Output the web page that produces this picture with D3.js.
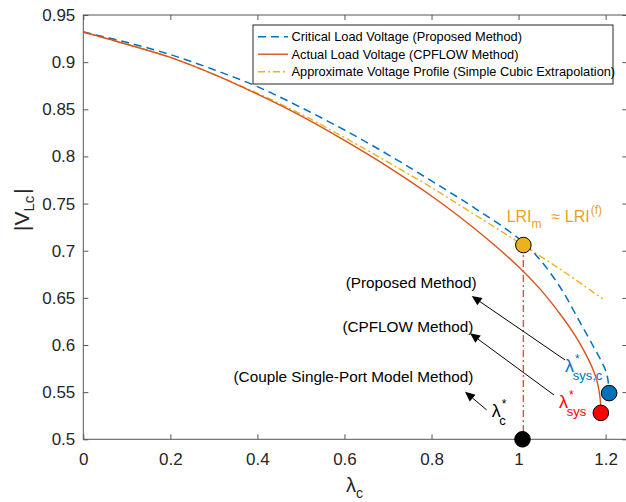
<!DOCTYPE html>
<html>
<head>
<meta charset="utf-8">
<script src="https://cdn.jsdelivr.net/npm/d3@7"></script>
<style>
  body { margin: 0; background: #fff; }
  text { font-family: "Liberation Sans", Arial, sans-serif; }
</style>
</head>
<body>
<div id="chart-area"></div>
<script>
// data
var lambdaCritical = [0, 0.1, 0.2, 0.3, 0.4, 0.5, 0.6, 0.7, 0.8, 0.9, 1.0, 1.05, 1.1, 1.14, 1.17, 1.19, 1.2, 1.205, 1.208];
var voltCritical   = [0.932, 0.921, 0.908, 0.892, 0.874, 0.852, 0.828, 0.802, 0.774, 0.745, 0.713, 0.69, 0.658, 0.625, 0.600, 0.583, 0.573, 0.564, 0.549];

var lambdaActual = [0, 0.1, 0.2, 0.3, 0.4, 0.5, 0.6, 0.7, 0.8, 0.9, 1.0, 1.05, 1.1, 1.13, 1.15, 1.17, 1.18, 1.185, 1.188, 1.189];
var voltActual   = [0.932, 0.919, 0.905, 0.887, 0.866, 0.843, 0.817, 0.789, 0.758, 0.723, 0.683, 0.659, 0.630, 0.610, 0.594, 0.575, 0.562, 0.551, 0.540, 0.528];

var lambdaApprox = [0, 0.1, 0.2, 0.3, 0.4, 0.5, 0.6, 0.7, 0.8, 0.9, 1.0, 1.1, 1.193];
var voltApprox   = [0.932, 0.919, 0.905, 0.887, 0.867, 0.845, 0.820, 0.794, 0.767, 0.738, 0.709, 0.679, 0.649];

// special points
var ptLRI   = [1.011, 0.706];
var ptSysC  = [1.208, 0.549];
var ptSys   = [1.189, 0.528];
var ptC     = [1.009, 0.5];

var xTicks = [0, 0.2, 0.4, 0.6, 0.8, 1, 1.2];
var yTicks = [0.5, 0.55, 0.6, 0.65, 0.7, 0.75, 0.8, 0.85, 0.9, 0.95];

var legendLabels = [
    "Critical Load Voltage (Proposed Method)",
    "Actual Load Voltage (CPFLOW Method)",
    "Approximate Voltage Profile (Simple Cubic Extrapolation)"
];

var colBlue = "#0072BD", colRed = "#D95319", colYellow = "#EDB120";

var chartWidth = 626, chartHeight = 502;

var svg = d3.select("#chart-area").append("svg")
    .attr("width", chartWidth)
    .attr("height", chartHeight);

// scales
var x = d3.scaleLinear().domain([0, 1.25]).range([83.3, 627.4]);
var y = d3.scaleLinear().domain([0.5, 0.95]).range([439.3, 15]);

// axes (ticks inward, box on)
var axisCol = "#555555";
function styleAxis(g) {
    g.select(".domain").remove();
    g.selectAll("line").attr("stroke", axisCol);
    g.selectAll("text").attr("fill", "#262626").style("font-size", "17px")
        .style("font-family", "'Liberation Sans', Arial, sans-serif");
}

svg.append("g")
    .attr("transform", "translate(0," + y(0.5) + ")")
    .call(d3.axisBottom(x).tickValues(xTicks).tickFormat(d3.format("~g")).tickSizeInner(-5).tickSizeOuter(0).tickPadding(13.5))
    .call(styleAxis);
svg.append("g")
    .attr("transform", "translate(0," + y(0.95) + ")")
    .call(d3.axisTop(x).tickValues(xTicks).tickFormat("").tickSizeInner(-5).tickSizeOuter(0))
    .call(styleAxis);
svg.append("g")
    .attr("transform", "translate(" + x(0) + ",0)")
    .call(d3.axisLeft(y).tickValues(yTicks).tickFormat(d3.format("~g")).tickSizeInner(-5).tickSizeOuter(0).tickPadding(8))
    .call(styleAxis);
svg.append("g")
    .attr("transform", "translate(" + x(1.25) + ",0)")
    .call(d3.axisRight(y).tickValues(yTicks).tickFormat("").tickSizeInner(-5).tickSizeOuter(0))
    .call(styleAxis);

svg.append("rect")
    .attr("x", x(0)).attr("y", y(0.95))
    .attr("width", x(1.25) - x(0)).attr("height", y(0.5) - y(0.95))
    .attr("fill", "none").attr("stroke", axisCol).attr("stroke-width", 1);

// curves
function toPts(xs, ys) { return xs.map(function(d, i) { return [d, ys[i]]; }); }
var line = d3.line()
    .curve(d3.curveCatmullRom.alpha(0.5))
    .x(function(d) { return x(d[0]); })
    .y(function(d) { return y(d[1]); });

svg.append("path")
    .attr("d", line(toPts(lambdaApprox, voltApprox)))
    .attr("fill", "none").attr("stroke", colYellow).attr("stroke-width", 1.4)
    .attr("stroke-dasharray", "7,3,2,3");

svg.append("path")
    .attr("d", line(toPts(lambdaCritical, voltCritical)))
    .attr("fill", "none").attr("stroke", colBlue).attr("stroke-width", 1.5)
    .attr("stroke-dasharray", "8,5");

svg.append("path")
    .attr("d", line(toPts(lambdaActual, voltActual)))
    .attr("fill", "none").attr("stroke", colRed).attr("stroke-width", 1.4);

// vertical dash-dot marker line
svg.append("line")
    .attr("x1", x(ptLRI[0])).attr("x2", x(ptLRI[0]))
    .attr("y1", y(ptLRI[1])).attr("y2", y(ptC[1]))
    .attr("stroke", "#ff4040").attr("stroke-width", 1.4)
    .attr("stroke-dasharray", "7,3,2,3");

// markers
var markers = [
    { p: ptLRI, c: colYellow },
    { p: ptSysC, c: colBlue },
    { p: ptSys, c: "#ff0000" },
    { p: ptC, c: "#000000" }
];
svg.selectAll("circle.mk").data(markers).enter()
    .append("circle")
    .attr("class", "mk")
    .attr("cx", function(d) { return x(d.p[0]); })
    .attr("cy", function(d) { return y(d.p[1]); })
    .attr("r", 7.8)
    .attr("fill", function(d) { return d.c; })
    .attr("stroke", "#000").attr("stroke-width", 1);

// arrows
var arrows = [
    { from: [1.1066, 0.5842], to: [0.8923, 0.652] },
    { from: [1.0813, 0.547], to: [0.8884, 0.6125] },
    { from: [0.9267, 0.5311], to: [0.8769, 0.5505] }
];
arrows.forEach(function(a) {
    var x1 = x(a.from[0]), y1 = y(a.from[1]), x2 = x(a.to[0]), y2 = y(a.to[1]);
    var ang = Math.atan2(y2 - y1, x2 - x1);
    var len = 10, wid = 4.5;
    var bx = x2 - len * Math.cos(ang), by = y2 - len * Math.sin(ang);
    svg.append("line")
        .attr("x1", x1).attr("y1", y1).attr("x2", bx).attr("y2", by)
        .attr("stroke", "#000").attr("stroke-width", 1);
    svg.append("path")
        .attr("d", "M" + x2 + "," + y2 +
            "L" + (bx + wid * Math.sin(ang)) + "," + (by - wid * Math.cos(ang)) +
            "L" + (bx - wid * Math.sin(ang)) + "," + (by + wid * Math.cos(ang)) + "Z")
        .attr("fill", "#000");
});

// method labels
var methodLabels = [
    { t: "(Proposed Method)", p: [0.9037, 0.6605] },
    { t: "(CPFLOW Method)", p: [0.896, 0.6142] },
    { t: "(Couple Single-Port Model Method)", p: [0.896, 0.5611] }
];
svg.selectAll("text.method").data(methodLabels).enter()
    .append("text")
    .attr("class", "method")
    .attr("x", function(d) { return x(d.p[0]); })
    .attr("y", function(d) { return y(d.p[1]); })
    .attr("text-anchor", "end")
    .style("font-size", "15.3px")
    .attr("fill", "#000")
    .text(function(d) { return d.t; });

// lambda labels with super/subscripts
function lambdaLabel(p, sub, col) {
    var t = svg.append("text")
        .attr("x", x(p[0])).attr("y", y(p[1]))
        .attr("fill", col).style("font-size", "18px");
    t.append("tspan").text("λ");
    t.append("tspan").attr("dx", 1).attr("dy", -9).style("font-size", "12px").text("*");
    t.append("tspan").attr("dx", -7).attr("dy", 17).style("font-size", "13px").text(sub);
}
lambdaLabel([1.1066, 0.5714], "sys,c", colBlue);
lambdaLabel([1.0928, 0.5334], "sys", "#ff0000");
lambdaLabel([0.9382, 0.5237], "c", "#000");

// LRI label
var lri = svg.append("text")
    .attr("x", x(0.9726)).attr("y", y(0.7305))
    .attr("fill", "#E9A21E").style("font-size", "16px");
lri.append("tspan").text("LRI");
lri.append("tspan").attr("dy", 6).style("font-size", "12px").text("m");
lri.append("tspan").attr("dx", 10).attr("dy", -6).text("≈ LRI");
lri.append("tspan").attr("dx", 1).attr("dy", -8).style("font-size", "12px").text("(f)");

// axis labels
var xl = svg.append("text")
    .attr("x", 346).attr("y", 492)
    .attr("fill", "#262626").style("font-size", "20px");
xl.append("tspan").text("λ");
xl.append("tspan").attr("dy", 6).style("font-size", "14px").text("c");

var yl = svg.append("text")
    .attr("transform", "translate(29,231) rotate(-90)")
    .attr("fill", "#262626").style("font-size", "21px");
yl.append("tspan").text("|V");
yl.append("tspan").attr("dy", 5).style("font-size", "15px").text("Lc");
yl.append("tspan").attr("dx", 2).attr("dy", -5).text("|");

// legend
var legend = svg.append("g");
legend.append("rect")
    .attr("x", 253).attr("y", 25).attr("width", 360).attr("height", 59)
    .attr("fill", "#fff").attr("stroke", "#262626").attr("stroke-width", 1);
var legendStyles = [
    { c: colBlue, dash: "8,5", w: 1.5 },
    { c: colRed, dash: null, w: 1.4 },
    { c: colYellow, dash: "7,3,2,3", w: 1.4 }
];
legendLabels.forEach(function(lbl, i) {
    var cy = 36.7 + i * 17.5;
    legend.append("line")
        .attr("x1", 258).attr("x2", 288).attr("y1", cy).attr("y2", cy)
        .attr("stroke", legendStyles[i].c).attr("stroke-width", legendStyles[i].w)
        .attr("stroke-dasharray", legendStyles[i].dash);
    legend.append("text")
        .attr("x", 291.5).attr("y", cy + 4.5)
        .style("font-size", "12.8px").attr("fill", "#000")
        .text(lbl);
});
</script>
</body>
</html>
